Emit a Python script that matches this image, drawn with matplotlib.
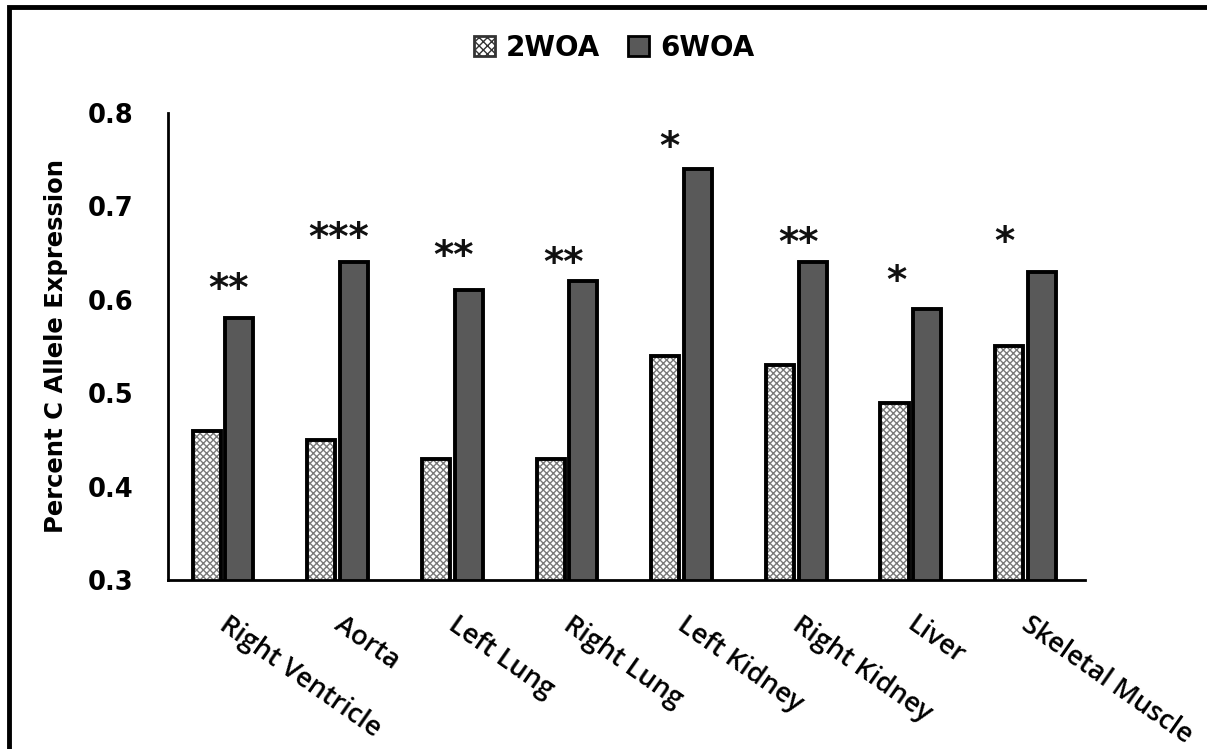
import numpy as np
import matplotlib
matplotlib.use("Agg")
import matplotlib.pyplot as plt
from matplotlib.patches import Patch, Rectangle

tissues = ["Right Ventricle", "Aorta", "Left Lung", "Right Lung",
           "Left Kidney", "Right Kidney", "Liver", "Skeletal Muscle"]
woa2 = [0.46, 0.45, 0.43, 0.43, 0.54, 0.53, 0.49, 0.55]
woa6 = [0.58, 0.64, 0.61, 0.62, 0.74, 0.64, 0.59, 0.63]
stars = ["**", "***", "**", "**", "*", "**", "*", "*"]
star_y = [0.61, 0.665, 0.646, 0.638, 0.763, 0.66, 0.619, 0.661]
star_dx = [0.05, 0.01, 0.01, -0.03, -0.11, 0.02, -0.13, -0.18]

plt.rcParams['font.family'] = ['DejaVu Sans']

fig = plt.figure(figsize=(12.07, 7.49), dpi=100)
ax = fig.add_axes([0.1392, 0.2256, 0.7598, 0.6236])

x = np.arange(len(tissues)) + 0.48
w = 0.245
gap = 0.02

# hatched bars: grey hatch first, then black outline on top
ax.bar(x - w / 2 - gap, woa2, w, color="white", edgecolor="#7a7a7a",
       hatch="xxxxx", linewidth=0)
ax.bar(x - w / 2 - gap, woa2, w, fill=False, edgecolor="black", linewidth=2.8)
ax.bar(x + w / 2 + gap, woa6, w, color="#595959", edgecolor="black", linewidth=2.8)

for xi, s, sy, dx in zip(x, stars, star_y, star_dx):
    ax.text(xi + dx, sy, s, ha="center", va="center", fontsize=28,
            fontweight="bold", color="#111111")

ax.set_xlim(0, len(tissues))
ax.set_ylim(0.3, 0.8)
ax.set_yticks([0.3, 0.4, 0.5, 0.6, 0.7, 0.8])
ax.set_yticklabels(["0.3", "0.4", "0.5", "0.6", "0.7", "0.8"], fontsize=18.5, fontweight="bold")
ax.tick_params(axis="y", length=0, pad=25)
ax.set_xticks(x + 0.06)
ax.set_xticklabels(tissues, rotation=-35, ha="left", va="top", rotation_mode="anchor",
                   fontsize=19.5, fontweight="semibold", family=["Open Sans", "DejaVu Sans"])
ax.tick_params(axis="x", length=0, pad=22)
for sp in ["top", "right"]:
    ax.spines[sp].set_visible(False)
ax.spines["left"].set_linewidth(2)
ax.spines["bottom"].set_linewidth(2)

ax.set_ylabel("Percent C Allele Expression", fontsize=17.5, fontweight="bold", labelpad=14)

handles = [Patch(facecolor="white", edgecolor="#333333", hatch="xxxx", linewidth=2),
           Patch(facecolor="#595959", edgecolor="black", linewidth=2)]
fig.legend(handles, ["2WOA", "6WOA"], loc="center", bbox_to_anchor=(0.509, 0.936),
           ncol=2, frameon=False, prop={"size": 20, "weight": "bold"},
           handlelength=0.75, handleheight=0.75, handletextpad=0.4, columnspacing=1.0)

# outer frame of the figure (left and top edges visible)
fig.patches.append(Rectangle((9 / 1207, -0.1), 1.2, 1.1 - 7 / 749,
                             transform=fig.transFigure, fill=False,
                             edgecolor="black", linewidth=3.5))

fig.savefig("out.png", dpi=100)
